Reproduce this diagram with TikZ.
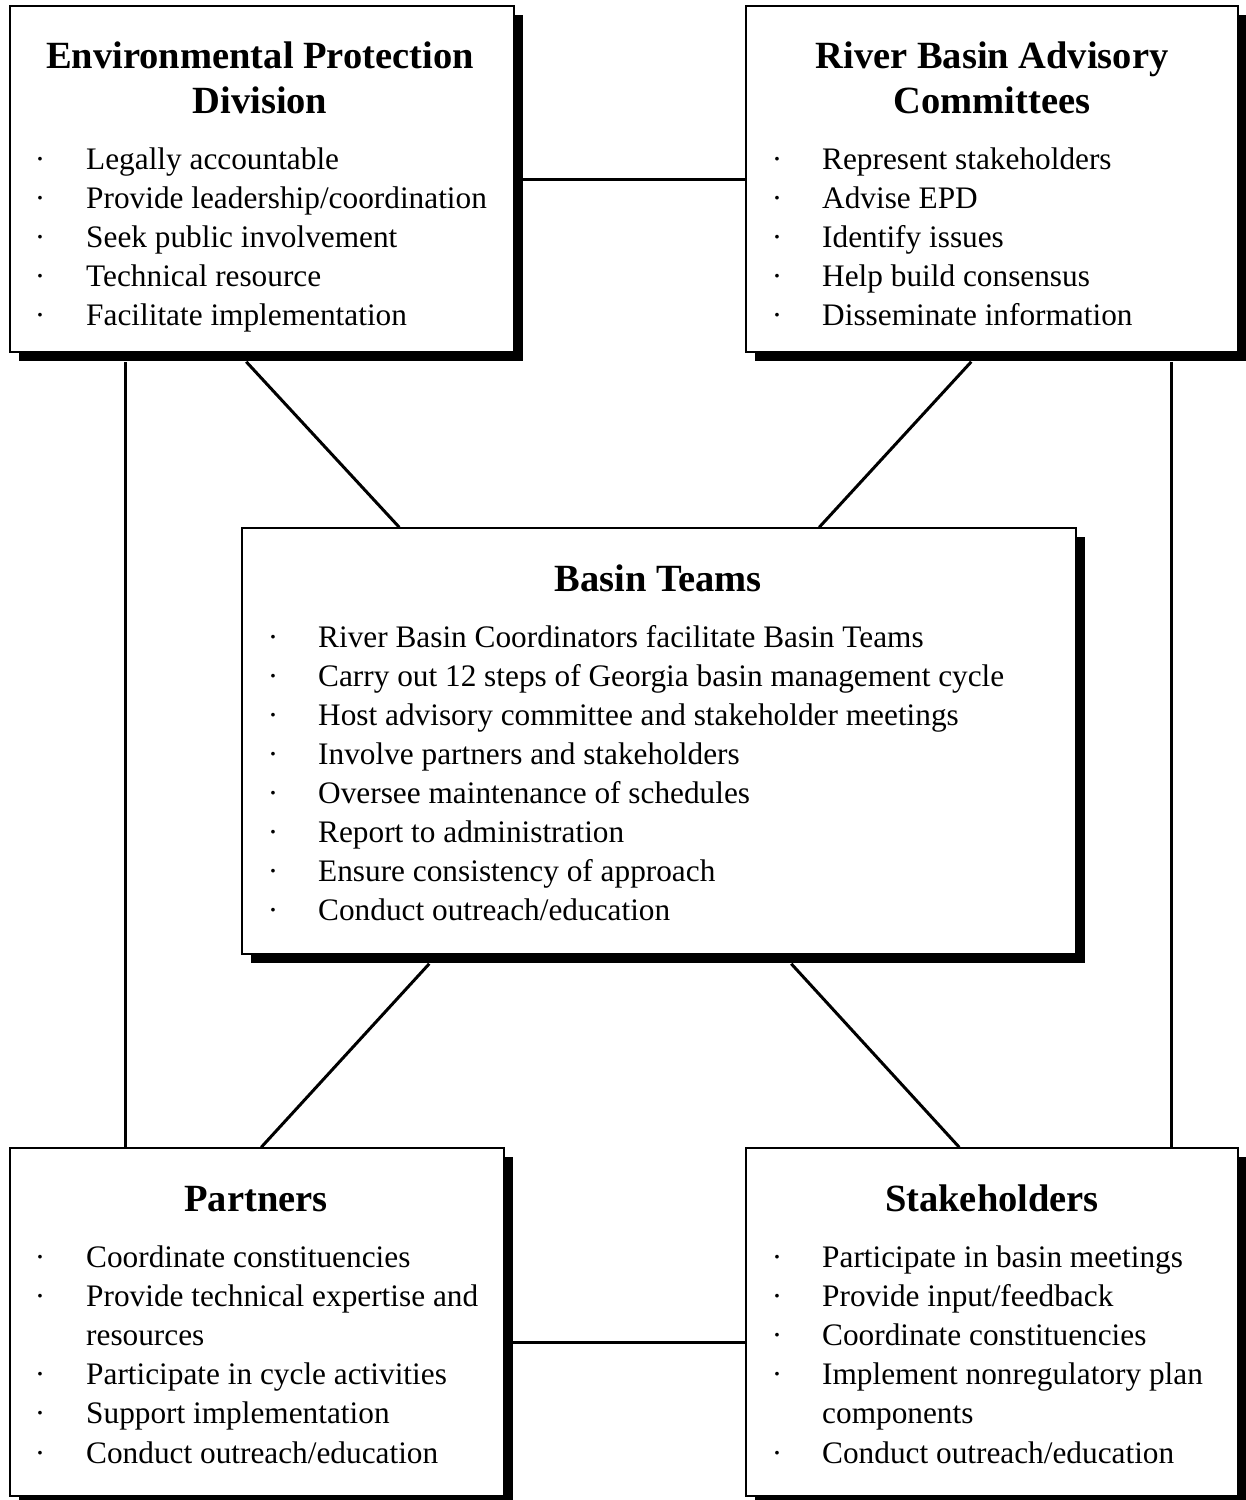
\documentclass[tikz,border=0pt]{standalone}
\usepackage{fontspec}
\setmainfont{Liberation Serif}
\usetikzlibrary{shadows,calc}
\begin{document}
\begin{tikzpicture}[x=1pt,y=-1pt,
  box/.style={draw=black, line width=1.5pt, fill=white, rectangle, inner sep=0pt,
    drop shadow={shadow xshift=9pt, shadow yshift=-9pt, fill=black, opacity=1}},
  conn/.style={line width=3pt},
  ttl/.style={anchor=base, inner sep=0pt, font=\fontsize{38.5}{44}\selectfont\bfseries},
  itm/.style={anchor=base west, inner sep=0pt, font=\fontsize{31.3}{39}\selectfont},
  bul/.style={anchor=base, inner sep=0pt, font=\fontsize{31.3}{39}\selectfont}]
\useasboundingbox (0,0) rectangle (1246,1500);
\fill[white] (0,0) rectangle (1246,1500);

% boxes
\node[box, minimum width=504pt, minimum height=346pt] (epd) at (262,179) {};
\node[box, minimum width=492pt, minimum height=346pt] (rbac) at (992,179) {};
\node[box, minimum width=834pt, minimum height=426pt] (basin) at (659,741) {};
\node[box, minimum width=494pt, minimum height=348pt] (part) at (257,1322) {};
\node[box, minimum width=492pt, minimum height=348pt] (stake) at (992,1322) {};

% connectors
\draw[conn] (epd.east) -- (rbac.west);
\draw[conn] ([xshift=116pt,yshift=-9pt]epd.south west) -- ([xshift=116pt]part.north west);
\draw[conn] ([xshift=426pt,yshift=-9pt]rbac.south west) -- ([xshift=426pt]stake.north west);
\draw[conn] ([xshift=237pt,yshift=-9pt]epd.south west) -- ([xshift=158pt]basin.north west);
\draw[conn] ([xshift=226pt,yshift=-9pt]rbac.south west) -- ([xshift=578pt]basin.north west);
\draw[conn] ([xshift=188pt,yshift=-9pt]basin.south west) -- ([xshift=252pt]part.north west);
\draw[conn] ([xshift=550pt,yshift=-9pt]basin.south west) -- ([xshift=214pt]stake.north west);
\draw[conn] ([yshift=-20pt]part.east) -- ([yshift=-20pt]stake.west);

% EPD text
\node[ttl] (epdh1) at (260,68) {Environmental Protection};
\node[ttl] (epdh2) at (260,113) {Division};
\foreach \b/\t [count=\i] in {1/Legally accountable, 1/Provide leadership\slash coordination, 1/Seek public involvement, 1/Technical resource, 1/Facilitate implementation}{
  \ifnum\b=1 \node[bul] (epdb\i) at (40,{169+39*(\i-1)}) {·};\fi
  \node[itm] (epdt\i) at (86,{169+39*(\i-1)}) {\t};
}

% RBAC text
\node[ttl] (rbach1) at (992,68) {River Basin Advisory};
\node[ttl] (rbach2) at (992,113) {Committees};
\foreach \b/\t [count=\i] in {1/Represent stakeholders, 1/Advise EPD, 1/Identify issues, 1/Help build consensus, 1/Disseminate information}{
  \ifnum\b=1 \node[bul] (rbacb\i) at (777,{169+39*(\i-1)}) {·};\fi
  \node[itm] (rbact\i) at (822,{169+39*(\i-1)}) {\t};
}

% Basin text
\node[ttl] (basinh) at (658,591) {Basin Teams};
\foreach \b/\t [count=\i] in {1/River Basin Coordinators facilitate Basin Teams, 1/Carry out 12 steps of Georgia basin management cycle, 1/Host advisory committee and stakeholder meetings, 1/Involve partners and stakeholders, 1/Oversee maintenance of schedules, 1/Report to administration, 1/Ensure consistency of approach, 1/Conduct outreach\slash education}{
  \ifnum\b=1 \node[bul] (basinb\i) at (273,{647+39*(\i-1)}) {·};\fi
  \node[itm] (basint\i) at (318,{647+39*(\i-1)}) {\t};
}

% Partners text
\node[ttl] (parth) at (256,1211) {Partners};
\foreach \b/\t [count=\i] in {1/Coordinate constituencies, 1/Provide technical expertise and, 0/resources, 1/Participate in cycle activities, 1/Support implementation, 1/Conduct outreach\slash education}{
  \ifnum\b=1 \node[bul] (partb\i) at (40,{1267+39.2*(\i-1)}) {·};\fi
  \node[itm] (partt\i) at (86,{1267+39.2*(\i-1)}) {\t};
}

% Stakeholders text
\node[ttl] (stakeh) at (992,1211) {Stakeholders};
\foreach \b/\t [count=\i] in {1/Participate in basin meetings, 1/Provide input\slash feedback, 1/Coordinate constituencies, 1/Implement nonregulatory plan, 0/components, 1/Conduct outreach\slash education}{
  \ifnum\b=1 \node[bul] (stakeb\i) at (777,{1267+39.2*(\i-1)}) {·};\fi
  \node[itm] (staket\i) at (822,{1267+39.2*(\i-1)}) {\t};
}
\end{tikzpicture}
\end{document}
